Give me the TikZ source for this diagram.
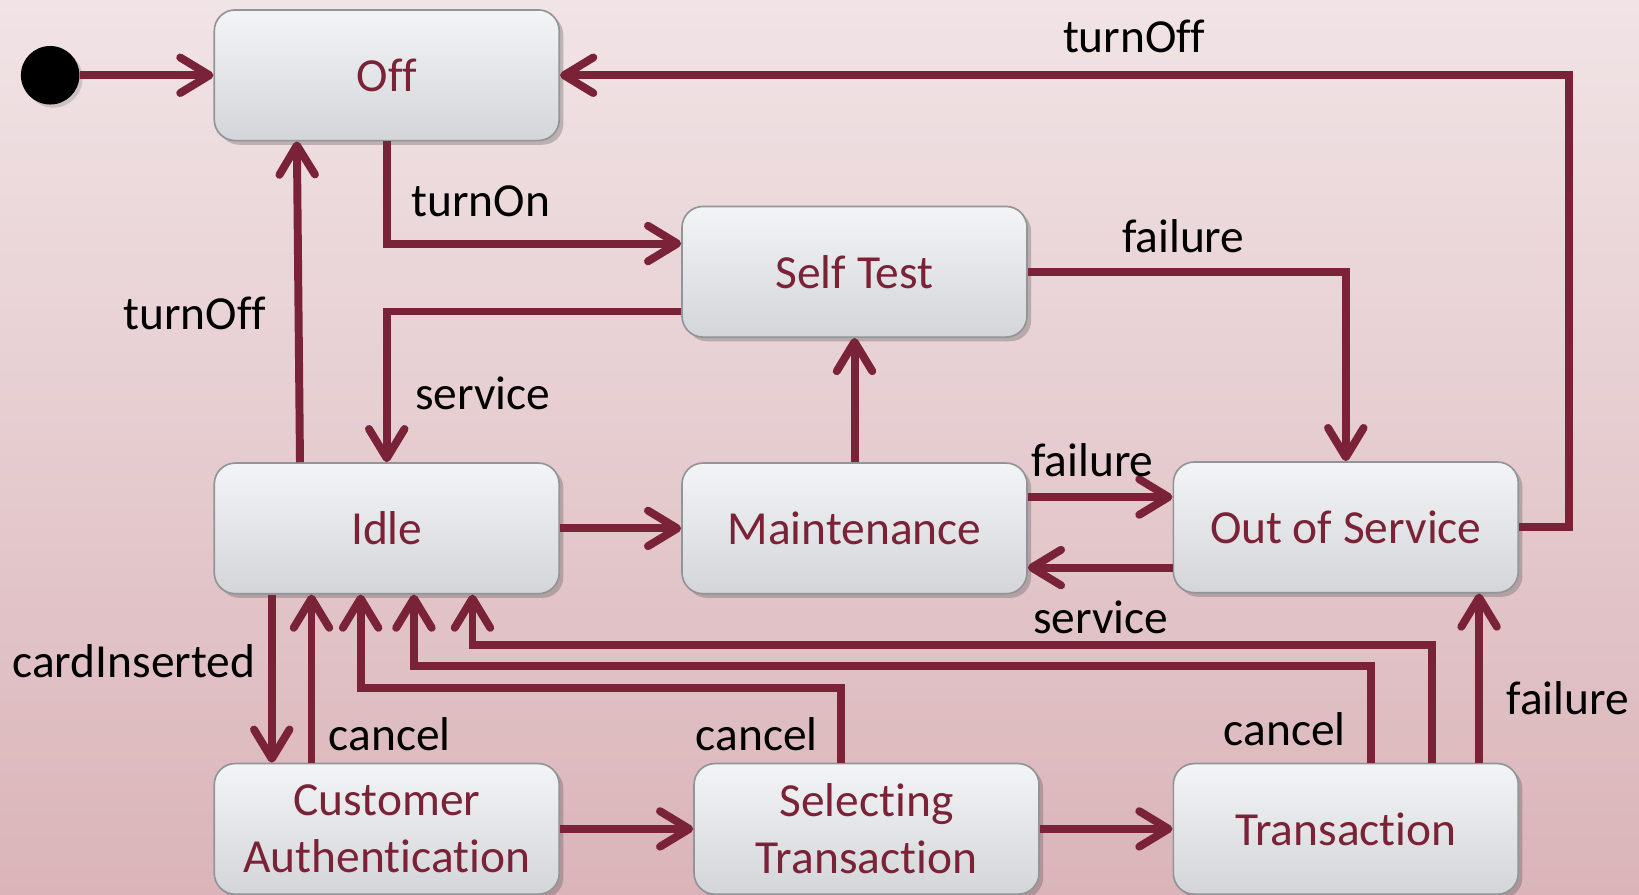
\documentclass[tikz,border=0pt]{standalone}
\usepackage{fontspec}
\setmainfont{Carlito}[Ligatures={NoCommon,NoRequired,NoContextual}]
\usetikzlibrary{arrows.meta,calc,shadows}

\definecolor{wine}{RGB}{122,34,55}
\definecolor{bgtop}{RGB}{241,228,230}
\definecolor{bgbot}{RGB}{218,180,185}
\definecolor{boxtop}{RGB}{243,244,246}
\definecolor{boxbot}{RGB}{211,213,216}
\definecolor{boxline}{RGB}{146,149,152}

\tikzset{
  state/.style={rectangle, rounded corners=10pt, draw=boxline, line width=0.8pt,
    top color=boxtop, bottom color=boxbot,
    minimum width=165pt, minimum height=62.5pt, inner sep=0pt, align=center,
    text=wine, font=\fontsize{22.7}{27}\selectfont,
    drop shadow={shadow xshift=2pt, shadow yshift=-2pt, opacity=0.3, fill=black!70}},
  initial/.style={circle, fill=black, minimum size=28pt, inner sep=0pt,
    drop shadow={shadow xshift=1.5pt, shadow yshift=-1.5pt, opacity=0.3}},
  arr/.style={draw=wine, line width=3.8pt,
    -{Straight Barb[length=14pt, width=17pt, round]}},
  lbl/.style={inner sep=0pt, text=black, font=\fontsize{22.7}{27}\selectfont}
}

\begin{document}
\begin{tikzpicture}[x=0.5pt, y=-0.5pt]
  \useasboundingbox (0,0) rectangle (1568,856);
  \fill[top color=bgtop, bottom color=bgbot] (0,0) rectangle (1568,856);

  % states
  \node[initial] (init) at (48,72) {};
  \node[state] (off)   at (370,72)     {Off};
  \node[state] (self)  at (817.5,260)  {Self Test};
  \node[state] (idle)  at (370,505.5)  {Idle};
  \node[state] (maint) at (817.5,505.5) {Maintenance};
  \node[state] (oos)   at (1287.5,504.5) {Out of Service};
  \node[state] (ca)    at (370,793)    {Customer\\Authentication};
  \node[state] (sel)   at (829,793)    {Selecting\\Transaction};
  \node[state] (trans) at (1287.5,793) {Transaction};

  % transitions
  \draw[arr] (init) -- (off);
  \draw[arr] (off.south) |- ($(self.west)+(0,-27)$);
  \draw[arr] (oos.east) -- ++(48,0) |- (off.east);
  \draw[arr] (self.east) -| (oos.north);
  \draw[arr] ($(self.west)+(0,38)$) -| (idle.north);
  \draw[arr] ($(idle.north)+(-83,0)$) -- ($(off.south)+(-86,0)$);
  \draw[arr] (idle) -- (maint);
  \draw[arr] (maint) -- (self);
  \draw[arr] ($(maint.east)+(0,-30)$) -- ($(oos.west)+(0,-29)$);
  \draw[arr] ($(oos.west)+(0,38.5)$) -- ($(maint.east)+(0,37.5)$);
  \draw[arr] ($(idle.south)+(-110,0)$) -- ($(ca.north)+(-110,0)$);
  \draw[arr] ($(ca.north)+(-72,0)$) -- ($(idle.south)+(-72,0)$);
  \draw[arr] ($(sel.north)+(-24,0)$) |- ($(idle.south)+(-25,89)$) -- ($(idle.south)+(-25,0)$);
  \draw[arr] ($(trans.north)+(24.5,0)$) |- ($(idle.south)+(26,68)$) -- ($(idle.south)+(26,0)$);
  \draw[arr] ($(trans.north)+(82.5,0)$) |- ($(idle.south)+(82,48)$) -- ($(idle.south)+(82,0)$);
  \draw[arr] ($(trans.north)+(127.5,0)$) -- ($(oos.south)+(127.5,0)$);
  \draw[arr] (ca) -- (sel);
  \draw[arr] (sel) -- (trans);

  % transition labels
  \node[lbl] (lTurnOn)   at (460,193)  {turnOn};
  \node[lbl] (lTurnOffA) at (1085,35)  {turnOff};
  \node[lbl] (lFailA)    at (1132,226) {failure};
  \node[lbl] (lServA)    at (462,376)  {service};
  \node[lbl] (lTurnOffB) at (186,300)  {turnOff};
  \node[lbl] (lFailB)    at (1045,440) {failure};
  \node[lbl] (lServB)    at (1053,591) {service};
  \node[lbl] (lCard)     at (128,633)  {cardInserted};
  \node[lbl] (lCancelA)  at (373,702)  {cancel};
  \node[lbl] (lCancelB)  at (724,702)  {cancel};
  \node[lbl] (lCancelC)  at (1229,698) {cancel};
  \node[lbl] (lFailC)    at (1500,668) {failure};
\end{tikzpicture}
\end{document}
